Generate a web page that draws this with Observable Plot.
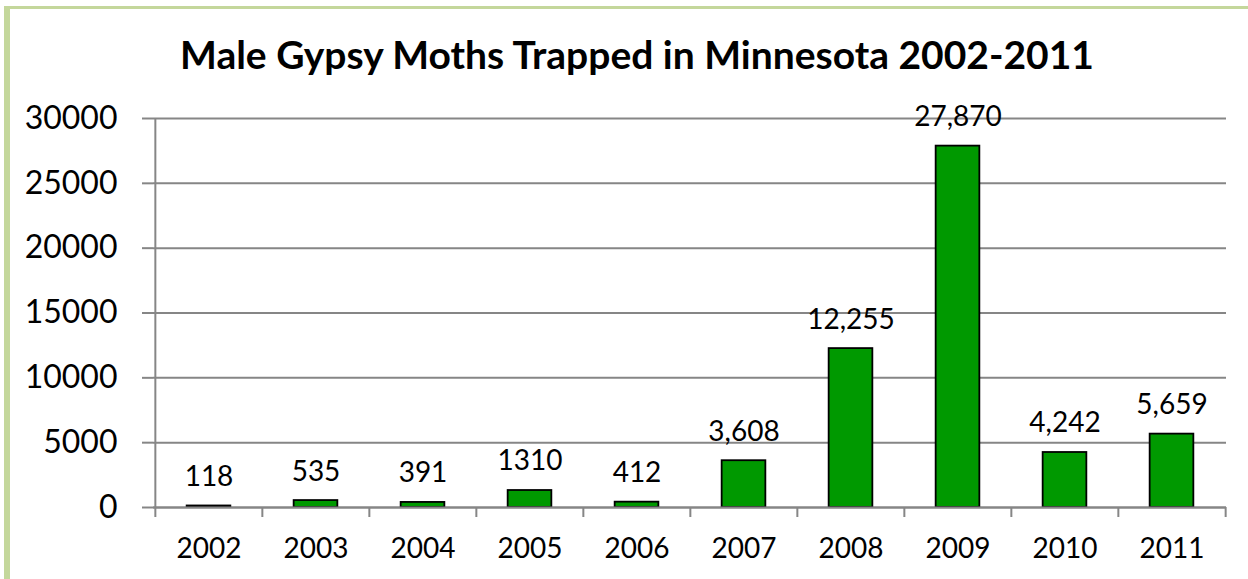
<!DOCTYPE html>
<html>
<head>
<meta charset="utf-8">
<script src="https://cdn.jsdelivr.net/npm/d3@7"></script>
<script src="https://cdn.jsdelivr.net/npm/@observablehq/plot@0.6"></script>
<style>
  body { margin: 0; background: #fff; }
  #frame { position: relative; width: 1248px; height: 579px; overflow: hidden; font-family: Lato, "Open Sans", sans-serif; }
  #border { position: absolute; left: 4px; top: 6px; right: -10px; bottom: -10px; border-left: 6px solid #c4d79b; border-top: 3px solid #c4d79b; }
  #title { position: absolute; left: 13px; width: 1248px; top: 35px; text-align: center; font-weight: bold; font-size: 39px; line-height: 39px; color: #000; }
  #chart { position: absolute; left: 0; top: 85px; }
</style>
</head>
<body>
<div id="frame">
  <div id="border"></div>
  <div id="title">Male Gypsy Moths Trapped in Minnesota 2002-2011</div>
  <div id="chart"></div>
</div>
<script>
const years = ["2002","2003","2004","2005","2006","2007","2008","2009","2010","2011"];
const moths = [118, 535, 391, 1310, 412, 3608, 12255, 27870, 4242, 5659];
const labels = ["118","535","391","1310","412","3,608","12,255","27,870","4,242","5,659"];
const yTicks = [0, 5000, 10000, 15000, 20000, 25000, 30000];

const data = years.map((y, i) => ({year: y, value: moths[i], label: labels[i]}));

const W = 1248, H = 494;
const mL = 153, mR = 22, mT = 33, mB = 72;
const step = (W - mL - mR) / years.length;
const barW = 44;
const inset = (step - barW) / 2;
const gray = "#868686";

const chart = Plot.plot({
  width: W,
  height: H,
  marginLeft: mL,
  marginRight: mR,
  marginTop: mT,
  marginBottom: mB,
  style: {fontFamily: "Lato, 'Open Sans', sans-serif", color: "#000", background: "transparent"},
  x: {domain: years, padding: 0, label: null},
  y: {domain: [0, 30000], label: null},
  marks: [
    Plot.ruleY(yTicks, {stroke: gray, strokeWidth: 2}),
    Plot.axisY({ticks: yTicks, tickSize: 11, tickPadding: 25, stroke: gray, strokeWidth: 2, fontSize: 32, tickFormat: d => String(d), strokeOpacity: 1}),
    Plot.ruleX([0], {x: () => years[0], dx: -step / 2, stroke: gray, strokeWidth: 2}),
    Plot.ruleX(years, {x: d => d, dx: -step / 2, y1: 0, y2: 0, insetBottom: -10, stroke: gray, strokeWidth: 2}),
    Plot.ruleX([years[years.length - 1]], {x: d => d, dx: step / 2, y1: 0, y2: 0, insetBottom: -10, stroke: gray, strokeWidth: 2}),
    Plot.axisX({tickSize: 0, tickPadding: 31, fontSize: 28}),
    Plot.barY(data, {x: "year", y: "value", fill: "#009900", stroke: "#000", strokeWidth: 1.8, insetLeft: inset, insetRight: inset}),
    Plot.ruleY([0], {stroke: gray, strokeWidth: 2}),
    Plot.text(data, {x: "year", y: "value", text: "label", dy: -29, fontSize: 28, fill: "#000"})
  ]
});
document.getElementById("chart").appendChild(chart);
</script>
</body>
</html>
